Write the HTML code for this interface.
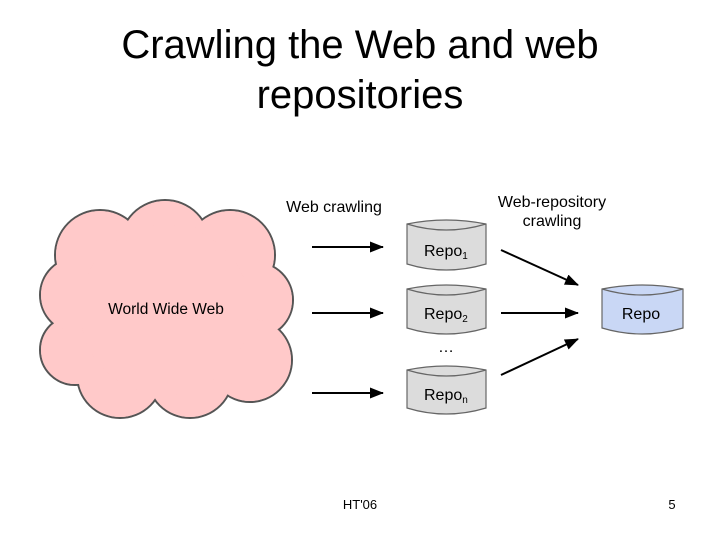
<!DOCTYPE html>
<html><head><meta charset="utf-8"><style>
html,body{margin:0;padding:0;background:#fff;}
svg{display:block;font-family:"Liberation Sans",Arial,sans-serif;}
</style></head><body>
<svg width="720" height="540" viewBox="0 0 720 540" xmlns="http://www.w3.org/2000/svg">
<defs>
<marker id="ah" markerWidth="14" markerHeight="11" refX="13" refY="5.5" orient="auto" markerUnits="userSpaceOnUse">
<path d="M0,0 L14,5.5 L0,11 Z" fill="#000"/></marker>
</defs>
<text x="360" y="58" font-size="40" text-anchor="middle" fill="#000">Crawling the Web and web</text>
<text x="360" y="108" font-size="40" text-anchor="middle" fill="#000">repositories</text>

<g stroke="#555" stroke-width="2" fill="#ffc9c9">
<circle cx="100" cy="255" r="45"/><circle cx="165" cy="245" r="45"/><circle cx="230" cy="255" r="45"/>
<circle cx="255" cy="300" r="38"/><circle cx="250" cy="360" r="42"/><circle cx="190" cy="375" r="43"/>
<circle cx="120" cy="375" r="43"/><circle cx="75" cy="350" r="35"/><circle cx="78" cy="295" r="38"/>
</g>
<g fill="#ffc9c9">
<circle cx="100" cy="255" r="44"/><circle cx="165" cy="245" r="44"/><circle cx="230" cy="255" r="44"/>
<circle cx="255" cy="300" r="37"/><circle cx="250" cy="360" r="41"/><circle cx="190" cy="375" r="42"/>
<circle cx="120" cy="375" r="42"/><circle cx="75" cy="350" r="34"/><circle cx="78" cy="295" r="37"/>
<circle cx="165" cy="310" r="85"/>
</g>
<text x="166" y="314" font-size="15.5" text-anchor="middle">World Wide Web</text>

<text x="334" y="212" font-size="16" text-anchor="middle">Web crawling</text>
<text x="552" y="207" font-size="16" text-anchor="middle">Web-repository</text>
<text x="552" y="226" font-size="16" text-anchor="middle">crawling</text>

<g stroke="#000" stroke-width="2" marker-end="url(#ah)">
<line x1="312" y1="247" x2="383" y2="247"/>
<line x1="312" y1="313" x2="383" y2="313"/>
<line x1="312" y1="393" x2="383" y2="393"/>
<line x1="501" y1="250" x2="578" y2="285"/>
<line x1="501" y1="313" x2="578" y2="313"/>
<line x1="501" y1="375" x2="578" y2="339"/>
</g>

<g stroke="#666" stroke-width="1.2">
<path d="M407,224 Q446,216 486,224 L486,264 Q446,276 407,264 Z" fill="#dcdcdc"/>
<path d="M407,224 Q446,236 486,224" fill="none"/>
<path d="M407,289 Q446,281 486,289 L486,328 Q446,340 407,328 Z" fill="#dcdcdc"/>
<path d="M407,289 Q446,301 486,289" fill="none"/>
<path d="M407,370 Q446,362 486,370 L486,408 Q446,420 407,408 Z" fill="#dcdcdc"/>
<path d="M407,370 Q446,382 486,370" fill="none"/>
<path d="M602,289 Q642,281 683,289 L683,328 Q642,340 602,328 Z" fill="#c9d7f5"/>
<path d="M602,289 Q642,301 683,289" fill="none"/>
</g>
<text x="424" y="256" font-size="16">Repo<tspan font-size="10" dy="3">1</tspan></text>
<text x="424" y="319" font-size="16">Repo<tspan font-size="10" dy="3">2</tspan></text>
<text x="446" y="352" font-size="16" text-anchor="middle">…</text>
<text x="424" y="400" font-size="16">Repo<tspan font-size="10" dy="3">n</tspan></text>
<text x="641" y="319" font-size="16" text-anchor="middle">Repo</text>

<text x="360" y="509" font-size="13" text-anchor="middle">HT'06</text>
<text x="672" y="509" font-size="13" text-anchor="middle">5</text>
</svg>
</body></html>
